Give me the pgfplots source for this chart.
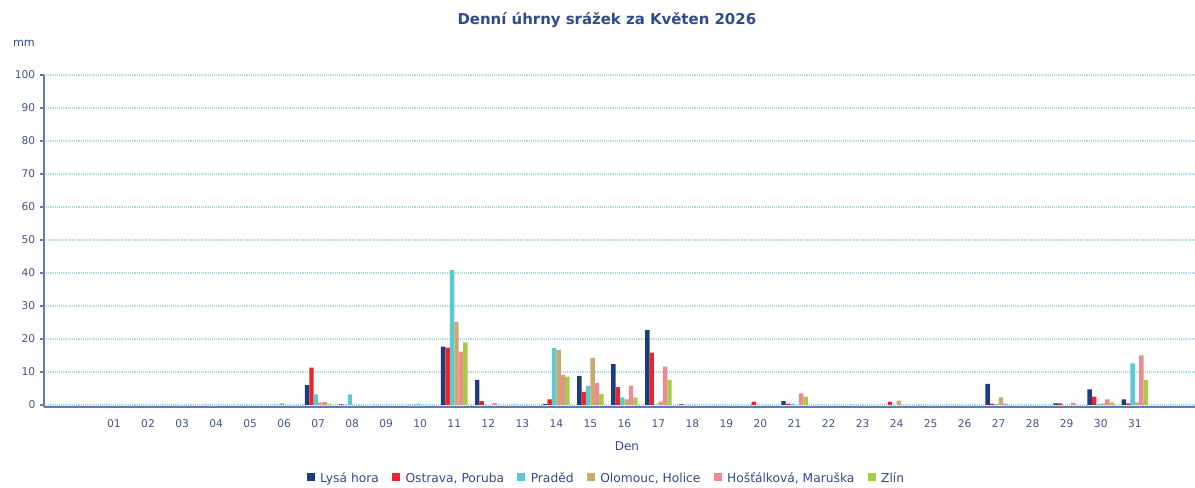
\documentclass[border=0pt]{standalone}
\usepackage{fontspec}
\setmainfont{DejaVu Sans}
\usepackage{pgfplots}
\pgfplotsset{compat=1.18}
\usepackage{pgfplotstable}
\definecolor{cLH}{HTML}{1F3B80}
\definecolor{cOP}{HTML}{E8262B}
\definecolor{cPR}{HTML}{5BC8D2}
\definecolor{cOH}{HTML}{C8AA6E}
\definecolor{cHM}{HTML}{F08A8E}
\definecolor{cZL}{HTML}{A5CB4C}
\definecolor{txt}{HTML}{2D4B8E}
\definecolor{tck}{HTML}{3F5488}
\definecolor{axl}{HTML}{5F7CB8}
\definecolor{grd}{HTML}{A8DCE8}
\pgfplotstableread{
day LH OP PR OH HM ZL
1 0 0 0 0 0 0
2 0 0 0 0 0 0
3 0 0 0 0 0 0
4 0 0 0 0 0 0
5 0 0 0 0 0 0
6 0 0 0.5 0 0 0
7 6.0 11.3 3.2 0.8 0.9 0.3
8 0.2 0 3.2 0 0 0
9 0 0 0 0 0 0
10 0 0 0.3 0 0 0
11 17.7 17.4 40.9 25.2 16.2 19.0
12 7.6 1.2 0 0 0.6 0
13 0 0 0 0 0 0
14 0.3 1.7 17.2 16.7 9.1 8.6
15 8.8 4.0 5.8 14.3 6.6 3.3
16 12.4 5.4 2.3 1.7 5.9 2.2
17 22.7 15.9 0.1 1.0 11.6 7.6
18 0.2 0 0 0 0 0
19 0 0 0 0 0 0
20 0 1.0 0 0 0 0
21 1.2 0.4 0.4 0 3.5 2.5
22 0 0 0 0 0 0
23 0 0 0 0 0 0
24 0 1.0 0 1.3 0 0
25 0 0 0 0 0 0
26 0 0 0 0 0 0
27 6.4 0.4 0.3 2.3 0.4 0
28 0 0 0 0 0 0
29 0.5 0.5 0 0 0.7 0
30 4.7 2.5 0.3 0.5 1.7 0.8
31 1.7 0.5 12.6 0.8 15.0 7.6
}\data
\begin{document}
\begin{tikzpicture}
\path[use as bounding box] (-33pt,-60.375pt) rectangle (863.25pt,305.625pt);
\begin{axis}[
  at={(0pt,0pt)}, anchor=south west,
  scale only axis, width=863.25pt, height=249.375pt,
  xmin=-1.057, xmax=32.77, ymin=-0.76, ymax=100,
  axis x line=bottom, axis y line=left,
  axis line style={-, draw=axl, line width=1.5pt},
  ytick={0,10,...,100},
  xtick={1,...,31},
  xticklabels={01,02,03,04,05,06,07,08,09,10,11,12,13,14,15,16,17,18,19,20,21,22,23,24,25,26,27,28,29,30,31},
  xticklabel style={anchor=north, text height=1.6ex, text depth=0.3ex},
  xtick style={draw=none},
  ytick style={draw=axl, line width=0.8pt},
  major tick length=3pt, tick align=outside,
  ymajorgrids, grid style={densely dotted, draw=grd, line width=0.9pt},
  tick label style={font=\fontsize{8}{10}\selectfont, text=tck},
  /pgf/number format/assume math mode=true,
  ybar=0pt, bar width=0.13,
  clip=false,
  legend columns=6,
  legend style={draw=none, fill=none, at={(0.489,-0.212)}, anchor=center,
    font=\fontsize{9.2}{11}\selectfont, text=txt,
    nodes={text height=1.5ex, text depth=0.3ex},
    /tikz/every odd column/.append style={column sep=2pt},
    /tikz/every even column/.append style={column sep=8pt}},
  legend image code/.code={\path[#1] (0pt,-2.6pt) rectangle (6pt,3.4pt);},
]
\addplot[fill=cLH, draw=none] table[x=day,y=LH]{\data};
\addplot[fill=cOP, draw=none] table[x=day,y=OP]{\data};
\addplot[fill=cPR, draw=none] table[x=day,y=PR]{\data};
\addplot[fill=cOH, draw=none] table[x=day,y=OH]{\data};
\addplot[fill=cHM, draw=none] table[x=day,y=HM]{\data};
\addplot[fill=cZL, draw=none] table[x=day,y=ZL]{\data};
\legend{Lysá hora, {Ostrava, Poruba}, Praděd, {Olomouc, Holice}, {Hošťálková, Maruška}, Zlín}
\node[font=\bfseries\fontsize{11.2}{13}\selectfont, text=txt] at (axis description cs:0.489,1.165) {Denní úhrny srážek za Květen 2026};
\node[font=\fontsize{8.4}{10}\selectfont, text=txt] at (axis description cs:-0.0174,1.096) {mm};
\node[font=\fontsize{9}{11}\selectfont, text=txt] at (axis description cs:0.5065,-0.116) {Den};
\end{axis}
\end{tikzpicture}
\end{document}
